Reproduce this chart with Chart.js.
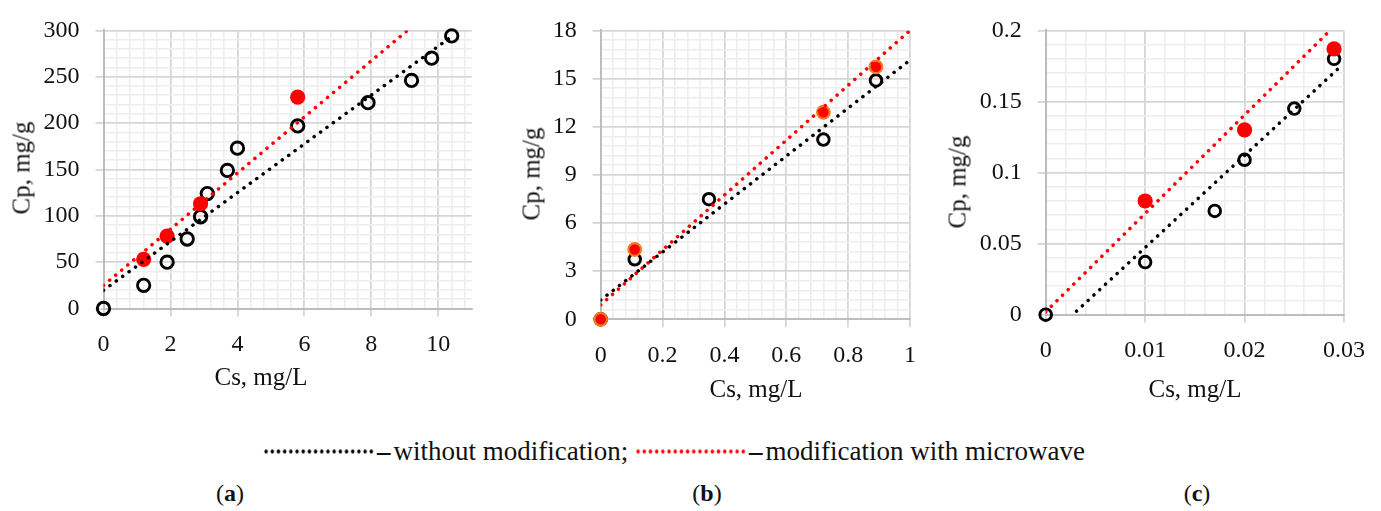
<!DOCTYPE html>
<html>
<head>
<meta charset="utf-8">
<script src="https://cdn.jsdelivr.net/npm/chart.js@4/dist/chart.umd.min.js"></script>
<style>
  html, body { margin: 0; padding: 0; background: #fff; }
  body { width: 1381px; height: 511px; position: relative; overflow: hidden; font-family: 'Liberation Serif', serif; color: #111; }
  canvas { position: absolute; top: 0; }
  .t { position: absolute; white-space: nowrap; font-family: 'Liberation Serif', serif; font-size: 25px; line-height: 1; transform: translate(-50%, -50%); }
  .ty { transform: translate(-50%, -50%) rotate(-90deg); }
  .lab { position: absolute; font-family: 'Liberation Serif', serif; font-size: 24px; transform: translate(-50%, -50%); white-space: nowrap; }
  #legend { position: absolute; left: 263px; top: 451px; transform: translateY(-50%); white-space: nowrap; display: flex; align-items: center; }
  #legend span.tx { font-family: 'Liberation Serif', serif; font-size: 27px; line-height: 1; }
  #legend span.ds { font-family: 'Liberation Serif', serif; font-size: 27px; line-height: 1; font-weight: bold; margin: 0 3px 0 2px; }
  .dots { display: inline-block; width: 112px; height: 4px; background-image: radial-gradient(circle, var(--c) 1.6px, transparent 2px); background-size: 6.2px 4px; background-repeat: repeat-x; }
</style>
</head>
<body>
<canvas id="ca" width="490" height="400" style="left:0px"></canvas>
<canvas id="cb" width="440" height="400" style="left:490px"></canvas>
<canvas id="cc" width="451" height="400" style="left:930px"></canvas>

<div class="t ty" style="left:21px; top:168px">Cp, mg/g</div>
<div class="t" style="left:261px; top:376px">Cs, mg/L</div>
<div class="t ty" style="left:531px; top:174px">Cp, mg/g</div>
<div class="t" style="left:756px; top:388px">Cs, mg/L</div>
<div class="t ty" style="left:957px; top:182px">Cp, mg/g</div>
<div class="t" style="left:1195px; top:388px">Cs, mg/L</div>

<div id="legend">
  <span class="dots" style="--c:#000"></span><span class="ds">–</span><span class="tx">without modification;&nbsp;</span>
  <span class="dots" style="--c:#ff0000"></span><span class="ds">–</span><span class="tx">modification with microwave</span>
</div>
<div class="lab" style="left:230px; top:493px">(<b>a</b>)</div>
<div class="lab" style="left:707px; top:493px">(<b>b</b>)</div>
<div class="lab" style="left:1197px; top:493px">(<b>c</b>)</div>

<script>
// ---------- Panel (a) ----------
const aCsWithout = [0, 1.2, 1.9, 2.5, 2.9, 3.1, 3.7, 4.0, 5.8, 7.9, 9.2, 9.8, 10.4];
const aCpWithout = [0, 25, 50, 75, 99, 124, 149, 173, 197, 222, 246, 270, 294];
const aCsMicro = [1.2, 1.9, 2.9, 5.8];
const aCpMicro = [53, 78, 113, 228];
const aTrendWithoutX = [0, 10.4];
const aTrendWithoutY = [19.6, 293.5];
const aTrendMicroX = [0, 9.08];
const aTrendMicroY = [25, 300];
const aXTicks = [0, 2, 4, 6, 8, 10];
const aXLabels = ['0', '2', '4', '6', '8', '10'];
const aYTicks = [0, 50, 100, 150, 200, 250, 300];
const aYLabels = ['0', '50', '100', '150', '200', '250', '300'];

// ---------- Panel (b) ----------
const bCsWithout = [0, 0.11, 0.35, 0.72, 0.89];
const bCpWithout = [0, 3.74, 7.48, 11.2, 14.88];
const bCsMicro = [0, 0.11, 0.72, 0.89];
const bCpMicro = [0, 4.35, 12.9, 15.73];
const bTrendWithoutX = [0, 1];
const bTrendWithoutY = [1.2, 16.15];
const bTrendMicroX = [0, 1];
const bTrendMicroY = [0.9, 18];
const bXTicks = [0, 0.2, 0.4, 0.6, 0.8, 1];
const bXLabels = ['0', '0.2', '0.4', '0.6', '0.8', '1'];
const bYTicks = [0, 3, 6, 9, 12, 15, 18];
const bYLabels = ['0', '3', '6', '9', '12', '15', '18'];

// ---------- Panel (c) ----------
const cCsWithout = [0, 0.01, 0.017, 0.02, 0.025, 0.029];
const cCpWithout = [0, 0.037, 0.073, 0.109, 0.145, 0.18];
const cCsMicro = [0.01, 0.02, 0.029];
const cCpMicro = [0.08, 0.13, 0.187];
const cTrendWithoutX = [0.0031, 0.0294];
const cTrendWithoutY = [0.0025, 0.173];
const cTrendMicroX = [0, 0.0286];
const cTrendMicroY = [0.002, 0.2];
const cXTicks = [0, 0.01, 0.02, 0.03];
const cXLabels = ['0', '0.01', '0.02', '0.03'];
const cYTicks = [0, 0.05, 0.1, 0.15, 0.2];
const cYLabels = ['0', '0.05', '0.1', '0.15', '0.2'];

const pts = (xs, ys) => xs.map((x, i) => ({ x: x, y: ys[i] }));
const FONT = { family: "'Liberation Serif', serif", size: 24 };
const MAJOR = '#d6d6d6', MINOR = '#eeeeee', AXIS = '#bdbdbd';

function makeScale(min, max, minorStep, majors, labels, fixedSize, isX) {
  const isMajor = v => majors.some(m => Math.abs(m - v) < minorStep * 1e-3);
  return {
    type: 'linear', min: min, max: max,
    afterBuildTicks: s => {
      const t = [];
      for (let i = 0; ; i++) {
        const v = +(min + i * minorStep).toFixed(10);
        if (v > max + minorStep * 1e-6) break;
        t.push({ value: v });
      }
      s.ticks = t;
    },
    afterFit: s => { if (isX) s.height = fixedSize; else s.width = fixedSize; },
    ticks: {
      autoSkip: false, maxRotation: 0, minRotation: 0, font: FONT, color: '#111',
      padding: isX ? 14 : 16,
      callback: v => { const k = majors.findIndex(m => Math.abs(m - v) < minorStep * 1e-3); return k >= 0 ? labels[k] : ''; }
    },
    grid: {
      drawTicks: true, tickLength: 8,
      color: c => (c.tick && isMajor(c.tick.value)) ? MAJOR : MINOR,
      lineWidth: c => (c.tick && isMajor(c.tick.value)) ? 1.8 : 1.6,
      tickColor: c => (c.tick && isMajor(c.tick.value)) ? MAJOR : 'rgba(0,0,0,0)',
      tickWidth: 1.8
    },
    border: { display: true, color: AXIS, width: 2 }
  };
}

function trend(xs, ys, color) {
  return { type: 'scatter', data: pts(xs, ys), showLine: true, pointRadius: 0, borderColor: color,
           borderWidth: 3.5, borderDash: [0.1, 7.8], borderCapStyle: 'round', fill: false, order: 0 };
}

function makeChart(id, p) {
  return new Chart(document.getElementById(id), {
    type: 'scatter',
    data: {
      datasets: [
        trend(p.twx, p.twy, '#000000'),
        trend(p.tmx, p.tmy, '#ff0000'),
        { data: pts(p.mx, p.my), pointRadius: p.mr, pointBackgroundColor: '#ff0000',
          pointBorderColor: p.mBorder, pointBorderWidth: p.mbw, order: 1, clip: false },
        { data: pts(p.wx, p.wy), pointRadius: p.wr, pointBackgroundColor: 'rgba(0,0,0,0)',
          pointBorderColor: '#000', pointBorderWidth: 2.9, order: 2, clip: false }
      ]
    },
    options: {
      responsive: false, animation: false, devicePixelRatio: 1,
      layout: { padding: { left: 0, right: p.padRight, top: p.padTop, bottom: 0 } },
      plugins: { legend: { display: false }, tooltip: { enabled: false } },
      elements: { point: { pointStyle: 'circle', hoverRadius: 0 } },
      scales: { x: p.x, y: p.y }
    }
  });
}

makeChart('ca', {
  wx: aCsWithout, wy: aCpWithout, mx: aCsMicro, my: aCpMicro,
  twx: aTrendWithoutX, twy: aTrendWithoutY, tmx: aTrendMicroX, tmy: aTrendMicroY,
  wr: 6.2, mr: 7.6, mBorder: '#ff0000', mbw: 0,
  padRight: 18.2, padTop: 25.5,
  x: makeScale(0, 11, 0.4, aXTicks, aXLabels, 91.5, true),
  y: makeScale(0, 300, 10, aYTicks, aYLabels, 103.5, false)
});

makeChart('cb', {
  wx: bCsWithout, wy: bCpWithout, mx: bCsMicro, my: bCpMicro,
  twx: bTrendWithoutX, twy: bTrendWithoutY, tmx: bTrendMicroX, tmy: bTrendMicroY,
  wr: 5.8, mr: 6.3, mBorder: '#f07d1e', mbw: 2.2,
  padRight: 18.3, padTop: 25.7,
  x: makeScale(0, 1, 0.04, bXTicks, bXLabels, 80.7, true),
  y: makeScale(0, 18, 0.6, bYTicks, bYLabels, 110.7, false)
});

makeChart('cc', {
  wx: cCsWithout, wy: cCpWithout, mx: cCsMicro, my: cCpMicro,
  twx: cTrendWithoutX, twy: cTrendWithoutY, tmx: cTrendMicroX, tmy: cTrendMicroY,
  wr: 5.8, mr: 7.6, mBorder: '#ff0000', mbw: 0,
  padRight: 37, padTop: 17.5,
  x: makeScale(0, 0.03, 0.002, cXTicks, cXLabels, 85.3, true),
  y: makeScale(0, 0.2, 0.01, cYTicks, cYLabels, 115.7, false)
});
</script>
</body>
</html>
